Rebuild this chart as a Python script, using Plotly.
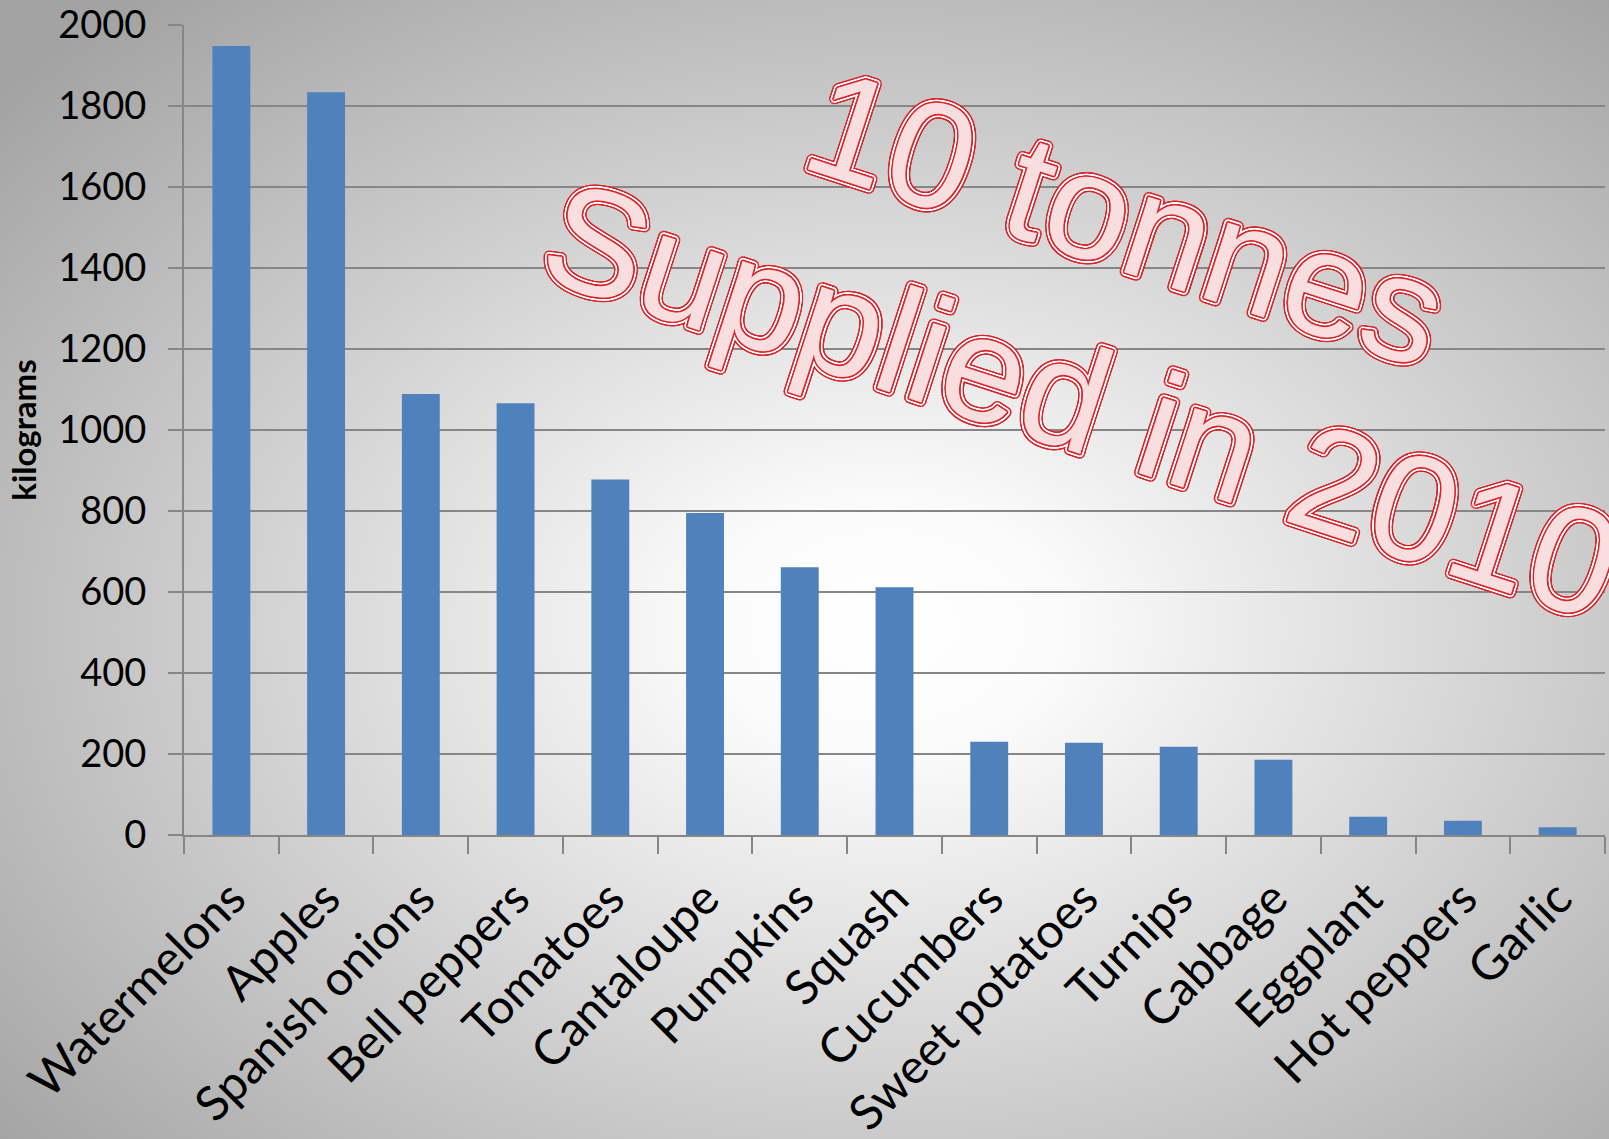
import base64
import math
import plotly.graph_objects as go

# ---- data ----
categories = ["Watermelons", "Apples", "Spanish onions", "Bell peppers", "Tomatoes",
              "Cantaloupe", "Pumpkins", "Squash", "Cucumbers", "Sweet potatoes",
              "Turnips", "Cabbage", "Eggplant", "Hot peppers", "Garlic"]
kilograms = [1948, 1834, 1089, 1066, 878, 795, 661, 612, 230, 228, 218, 186, 45, 35, 19]
y_ticks = [0, 200, 400, 600, 800, 1000, 1200, 1400, 1600, 1800, 2000]
title_line1 = "10 tonnes"
title_line2 = "Supplied in 2010"
y_title = "kilograms"

W, H = 1609, 1139
ML, MR, MT, MB = 184, 4, 25, 304
PW, PH = W - ML - MR, H - MT - MB

# background radial gradient (svg)
svg = f'''<svg xmlns="http://www.w3.org/2000/svg" width="{W}" height="{H}" viewBox="0 0 {W} {H}" preserveAspectRatio="none">
<defs><radialGradient id="g" cx="0.55" cy="0.55" r="0.72" fx="0.55" fy="0.55">
<stop offset="0" stop-color="#ffffff"/><stop offset="0.15" stop-color="#fbfbfb"/>
<stop offset="1" stop-color="#a3a3a3"/></radialGradient></defs>
<rect x="0" y="0" width="{W}" height="{H}" fill="url(#g)"/></svg>'''
bg_uri = "data:image/svg+xml;base64," + base64.b64encode(svg.encode()).decode()


def ring(r, n, color):
    out = []
    for k in range(n):
        a = 2 * math.pi * k / n
        out.append(f"{r*math.cos(a):.2f}px {r*math.sin(a):.2f}px 0 {color}")
    return out


shadow = ", ".join(ring(1.5, 12, "#d8262c") + ring(3.2, 16, "#ffffff") + ring(4.8, 20, "#d8262c"))

fig = go.Figure()
fig.add_trace(go.Bar(x=categories, y=kilograms, marker=dict(color="#4f81bd", line=dict(width=0))))

fig.update_layout(
    width=W, height=H,
    margin=dict(l=ML, r=MR, t=MT, b=MB, autoexpand=False),
    paper_bgcolor="rgba(0,0,0,0)",
    plot_bgcolor="rgba(0,0,0,0)",
    bargap=0.6,
    showlegend=False,
    images=[dict(source=bg_uri, xref="paper", yref="paper",
                 x=-ML / PW, y=1 + MT / PH, sizex=W / PW, sizey=H / PH,
                 xanchor="left", yanchor="top", sizing="stretch", layer="below")],
    xaxis=dict(
        type="category", tickangle=-45, tickson="boundaries",
        ticks="outside", ticklen=17, tickwidth=2, tickcolor="#868686",
        showline=True, linecolor="#868686", linewidth=2,
        showgrid=False,
        tickfont=dict(family="Lato", size=48, color="#000000"),
        ticklabelstandoff=14,
    ),
    yaxis=dict(
        range=[0, 2000], tickvals=y_ticks, ticktext=[str(v) for v in y_ticks],
        ticks="outside", ticklen=14, tickwidth=2, tickcolor="#868686",
        showline=True, linecolor="#868686", linewidth=2,
        showgrid=True, gridcolor="#868686", gridwidth=2,
        zeroline=False,
        tickfont=dict(family="Lato", size=38, color="#000000"),
        ticklabelstandoff=14,
        title=dict(text=y_title, font=dict(family="Lato", size=33, color="#000000", weight="bold"),
                   standoff=12),
    ),
)

title_font = dict(family="Liberation Sans", size=150, color="#f8dede", shadow=shadow)
fig.add_annotation(text=title_line1, xref="paper", yref="paper",
                   x=(1126 - ML) / PW, y=(MT + PH - 218) / PH,
                   xanchor="center", yanchor="middle", showarrow=False,
                   textangle=18, font=title_font)
fig.add_annotation(text=title_line2, xref="paper", yref="paper",
                   x=(1082 - ML) / PW, y=(MT + PH - 400) / PH,
                   xanchor="center", yanchor="middle", showarrow=False,
                   textangle=18, font=title_font)

fig.write_html("out.html")
